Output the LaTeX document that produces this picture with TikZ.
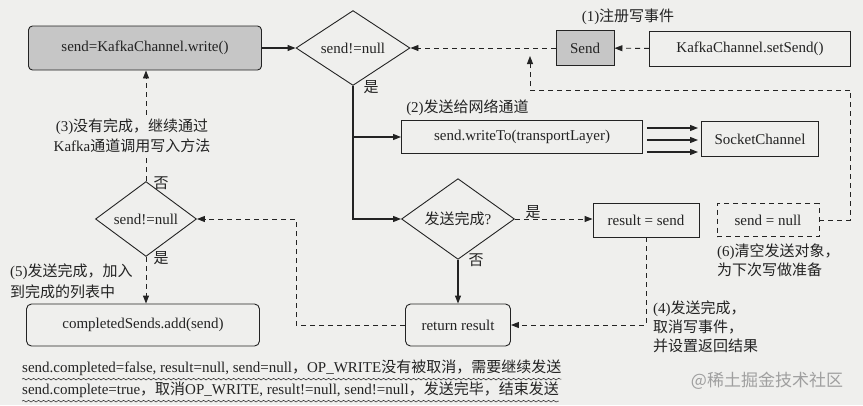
\documentclass[tikz,border=0pt]{standalone}
\usepackage{fontspec}
\setmainfont{Liberation Serif}
\newfontfamily\cjk{Noto Sans CJK SC}
\usetikzlibrary{arrows.meta,shapes.geometric,decorations.pathmorphing,positioning}
\newcommand{\zh}[1]{{\cjk #1}}

\definecolor{paper}{RGB}{239,239,237}
\definecolor{boxgray}{RGB}{198,198,198}
\definecolor{ink}{RGB}{35,35,35}

\tikzstyle{every node}=[font=\fontsize{15}{18}\selectfont, text=ink]
\tikzstyle{block} = [rectangle, draw=ink, line width=0.9pt, inner sep=0pt]
\tikzstyle{rblock} = [block, rounded corners=5pt]
\tikzstyle{decision} = [diamond, draw=ink, line width=0.9pt, inner sep=0pt]
\tikzstyle{note} = [align=left, inner sep=0pt, font=\fontsize{15}{19}\selectfont]
\tikzstyle{flow} = [draw=ink, line width=1.1pt, -{Triangle[length=8pt,width=6pt]}]
\tikzstyle{dflow} = [draw=ink, line width=0.9pt, dash pattern=on 5pt off 4pt, -{Triangle[length=8pt,width=6pt]}]
\tikzstyle{dline} = [draw=ink, line width=0.9pt, dash pattern=on 5pt off 4pt]
\tikzstyle{wavy} = [draw=ink, line width=0.5pt, decorate, decoration={snake, amplitude=0.9pt, segment length=5pt}]

\begin{document}
\begin{tikzpicture}[x=1pt,y=-1pt]
	\fill[paper] (0,0) rectangle (863,405);
	\useasboundingbox (0,0) rectangle (863,405);

	\node[rblock, fill=boxgray, rounded corners=4pt, minimum width=233pt, minimum height=44pt] (write) at (145,48) {send=KafkaChannel.write()};
	\node[decision, minimum width=114pt, minimum height=47pt] (chk1) at (353,48) {send!=null};
	\node[block, fill=boxgray, minimum width=58pt, minimum height=35pt] (sendbox) at (585,48) {Send};
	\node[block, minimum width=201pt, minimum height=35pt] (setsend) at (750,49) {KafkaChannel.setSend()};
	\node (lbl1) at (628,17) {(1)\zh{注册写事件}};

	\node[block, minimum width=241pt, minimum height=33pt] (writeto) at (522,137) {send.writeTo(transportLayer)};
	\node[anchor=south west, inner sep=0pt] (lbl2) at ([xshift=5pt,yshift=4pt]writeto.north west) {(2)\zh{发送给网络通道}};
	\node[block, minimum width=117pt, minimum height=35pt] (socket) at (760,139) {SocketChannel};

	\node[decision, minimum width=113pt, minimum height=47pt] (done) at (458,219) {\zh{发送完成}?};
	\node[block, minimum width=106pt, minimum height=34pt] (result) at (646,220) {result = send};
	\node[block, dashed, dash pattern=on 5pt off 4pt, minimum width=102pt, minimum height=33pt] (clear) at (768,220) {send = null};
	\node[note, anchor=north west] (lbl6) at (717,244) {(6)\zh{清空发送对象，}\\\zh{为下次写做准备}};

	\node[rblock, minimum width=105pt, minimum height=42pt] (ret) at (458,325) {return result};
	\node[note, anchor=north west] (lbl4) at (653,301) {(4)\zh{发送完成，}\\\zh{取消写事件，}\\\zh{并设置返回结果}};

	\node[decision, minimum width=101pt, minimum height=47pt] (chk3) at (146,219) {send!=null};
	\node[note, align=center, inner sep=4pt, font=\fontsize{15}{20}\selectfont] (lbl3) at (132,136) {(3)\zh{没有完成，继续通过}\\Kafka\zh{通道调用写入方法}};
	\node[rblock, minimum width=233pt, minimum height=42pt] (sends) at (143,325) {completedSends.add(send)};
	\node[note, anchor=north west, font=\fontsize{15}{21}\selectfont] (lbl5) at (10,264) {(5)\zh{发送完成，加入}\\\zh{到完成的列表中}};

	\node[anchor=west] (yes1) at (360,87) {\zh{是}};
	\node[anchor=south west] (yes2) at (522,222) {\zh{是}};
	\node[anchor=west] (no2) at (465,260) {\zh{否}};
	\node[anchor=west] (no3) at (150,183) {\zh{否}};
	\node[anchor=west] (yes3) at (150,258) {\zh{是}};

	\node[anchor=west, inner sep=0pt] (cond1) at (22,368) {send.completed=false, result=null, send=null\zh{，}OP\_WRITE\zh{没有被取消，需要继续发送}};
	\node[anchor=west, inner sep=0pt] (cond2) at (22,390) {send.complete=true\zh{，取消}OP\_WRITE, result!=null, send!=null\zh{，发送完毕，结束发送}};
	\node[text=gray!75, font=\cjk\fontsize{17}{17}\selectfont] (mark) at (767,381) {@稀土掘金技术社区};

	\coordinate (join) at (530,48);
	\coordinate (rt) at (850,90);
	\coordinate (loop) at (296,219);

	\draw[flow] (write) -- (chk1);
	\draw[dflow] (setsend) -- (sendbox);
	\draw[dflow] (sendbox) -- (chk1);
	\draw[dline] (clear.east) -| (rt);
	\draw[dflow] (rt) -| ([yshift=-8pt]join);

	\draw[flow] (chk1.south) |- (done.west);
	\draw[flow] (chk1.south |- writeto.west) -- (writeto.west);
	\foreach \dy in {11,-1,-13}
		\draw[flow] ([xshift=4pt,yshift=\dy pt]writeto.east |- socket.west) -- ([xshift=-3pt,yshift=\dy pt]socket.west);

	\draw[dflow] (done.east) -- (done.east -| result.west);
	\draw[flow] (done) -- (ret);
	\draw[dflow] (result.south) |- (ret.east);
	\draw[dflow] (ret.west) -| (loop) -- (chk3.east);

	\draw[dline] (chk3.north) -- (chk3.north |- lbl3.south);
	\draw[dflow] (chk3.north |- lbl3.north) -- (chk3.north |- write.south);
	\draw[dflow] (chk3.south) -- (chk3.south |- sends.north);

	\draw[wavy] ([yshift=-3pt]cond1.south west) -- ([yshift=-3pt]cond1.south east);
	\draw[wavy] ([yshift=-3pt]cond2.south west) -- ([yshift=-3pt]cond2.south east);
\end{tikzpicture}
\end{document}
